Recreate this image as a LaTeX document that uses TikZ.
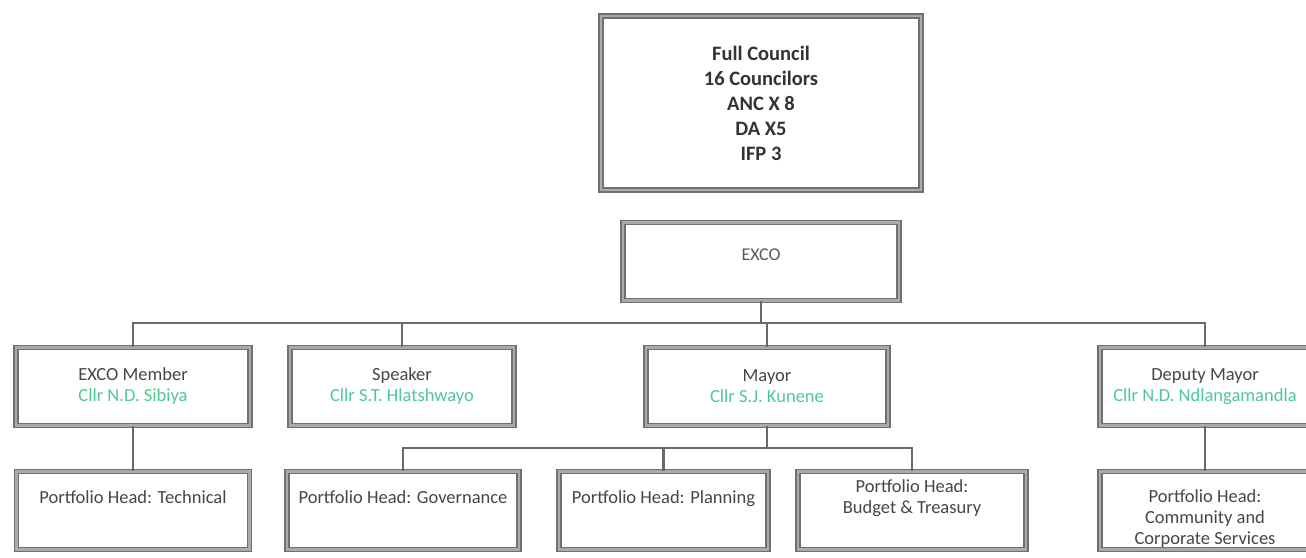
\documentclass[tikz,border=0pt]{standalone}
\usepackage{fontspec}
\setmainfont{Carlito}
\definecolor{boxgray}{RGB}{112,112,112}
\definecolor{boxmid}{RGB}{170,170,170}
\definecolor{conngray}{RGB}{105,105,105}
\definecolor{txtgray}{RGB}{70,70,70}
\definecolor{cllrgreen}{RGB}{80,200,150}
\begin{document}
\begin{tikzpicture}[x=1pt,y=-1pt,
  conn/.style={draw=conngray, line width=2.5pt},
  orgbox/.style={draw=boxgray, line width=1.7pt, double=boxmid, double distance=2.3pt,
    fill=white, minimum height=78pt, inner sep=0pt, align=center, text=txtgray,
    font=\fontsize{18.5}{21}\selectfont},
]
\useasboundingbox (0,0) rectangle (1306,557);
\clip (0,0) rectangle (1306,557);

% top
\node[orgbox, minimum width=320pt, minimum height=174pt, text=black!80,
  font=\bfseries\fontsize{20.5}{25}\selectfont] (council) at (761,103)
  {Full Council\\16 Councilors\\ANC X 8\\DA X5\\IFP 3};
\node[orgbox, minimum width=276pt, text=black!65, font=\fontsize{18}{21}\selectfont] (exco) at (761,261.5)
  {\raisebox{14pt}{EXCO}};

% level 2
\node[orgbox, minimum width=234pt] (member) at (133,386.5)
  {EXCO Member\\\textcolor{cllrgreen}{Cllr N.D. Sibiya}};
\node[orgbox, minimum width=224pt] (speaker) at (402,386.5)
  {Speaker\\\textcolor{cllrgreen}{Cllr S.T. Hlatshwayo}};
\node[orgbox, minimum width=242pt] (mayor) at (767,386.5)
  {Mayor\\\textcolor{cllrgreen}{Cllr S.J. Kunene}};
\node[orgbox, minimum width=210pt] (deputy) at (1205,386.5)
  {Deputy Mayor\\\textcolor{cllrgreen}{Cllr N.D. Ndlangamandla}};

% level 3
\node[orgbox, minimum width=233pt] (technical) at (133,510.5)
  {Portfolio Head: Technical\\\strut};
\node[orgbox, minimum width=232pt] (governance) at (403,510.5)
  {Portfolio Head: Governance\\\strut};
\node[orgbox, minimum width=209pt] (planning) at (663.5,510.5)
  {Portfolio Head: Planning\\\strut};
\node[orgbox, minimum width=228pt] (budget) at (912,510.5)
  {Portfolio Head:\\Budget \& Treasury\\\strut};
\node[orgbox, minimum width=210pt] (community) at (1205,510.5)
  {\smash{\raisebox{-12pt}{\parbox{200pt}{\centering Portfolio Head:\\Community and\\Corporate Services}}}};

% connectors
\coordinate (busA) at (0,323);
\coordinate (busB) at (0,448);

\draw[conn] (exco.south) -- (exco.south |- busA);
\draw[conn] (member.north) -- (member.north |- busA) -| (deputy.north);
\draw[conn] (speaker.north) -- (speaker.north |- busA);
\draw[conn] (mayor.north) -- (mayor.north |- busA);

\draw[conn] (member.south) -- (technical.north);
\draw[conn] (deputy.south) -- (community.north);

\draw[conn] (mayor.south) -- (mayor.south |- busB);
\draw[conn] (governance.north) -- (governance.north |- busB) -| (budget.north);
\draw[conn] (planning.north) -- (planning.north |- busB);
\end{tikzpicture}
\end{document}
